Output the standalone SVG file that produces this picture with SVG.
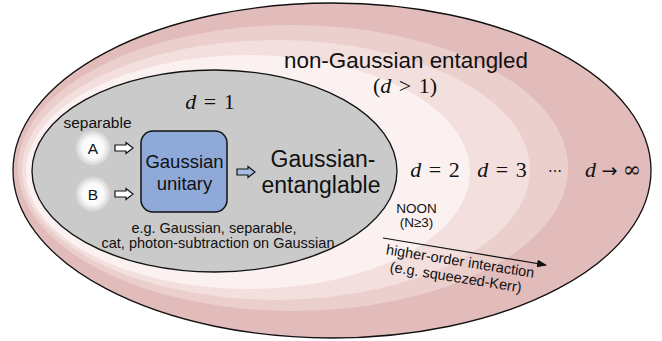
<svg xmlns="http://www.w3.org/2000/svg" width="662" height="341" viewBox="0 0 662 341">
<style>
.sans{font-family:"Liberation Sans",Arial,sans-serif;fill:#111}
.math{font-family:"Liberation Serif","DejaVu Serif",serif;fill:#111}
.it{font-style:italic}
.blk{fill:white;stroke:#111;stroke-width:1.2}
</style>
<defs>
<radialGradient id="ball" cx="0.5" cy="0.5" r="0.5">
<stop offset="0" stop-color="#ffffff"/>
<stop offset="0.6" stop-color="#fafafa"/>
<stop offset="1" stop-color="#d2d2d2"/>
</radialGradient>
<path id="barrow" d="M0,-3 H11 V-5.5 L18,0 L11,5.5 V3 H0 Z"/>
<marker id="ah" markerWidth="10" markerHeight="8" refX="9" refY="4" orient="auto" markerUnits="userSpaceOnUse">
<path d="M0,0 L10,4 L0,8 Z" fill="#111"/>
</marker>
</defs>

<g id="regions">
<ellipse cx="332" cy="170.5" rx="319" ry="167.5" fill="#e2bcba" stroke="#111" stroke-width="1.3"/>
<ellipse cx="293" cy="168" rx="275" ry="143" fill="#eacfcd"/>
<ellipse cx="276" cy="170" rx="254" ry="130" fill="#f2dfde"/>
<ellipse cx="248" cy="172" rx="222" ry="117" fill="#faf1f0"/>
</g>

<g id="gaussian-region">
<ellipse cx="214.5" cy="171" rx="182.5" ry="101" fill="#cacaca" stroke="#111" stroke-width="1.3"/>
<text class="math" x="210" y="109" font-size="22" text-anchor="middle" xml:space="preserve"><tspan class="it">d</tspan> <tspan dx="2">=</tspan> <tspan dx="2">1</tspan></text>
<text class="sans" x="97.5" y="128" font-size="15.5" text-anchor="middle">separable</text>
<text class="sans" x="214" y="233" font-size="14.5" text-anchor="middle">e.g. Gaussian, separable,</text>
<text class="sans" x="218" y="248" font-size="14.5" text-anchor="middle">cat, photon-subtraction on Gaussian</text>
</g>

<g id="node-A">
<circle cx="93" cy="148" r="17.5" fill="url(#ball)"/>
<text class="sans" x="93" y="154" font-size="15.5" text-anchor="middle">A</text>
</g>
<g id="node-B">
<circle cx="93" cy="194" r="17.5" fill="url(#ball)"/>
<text class="sans" x="93" y="200" font-size="15.5" text-anchor="middle">B</text>
</g>

<g id="node-unitary">
<rect x="141" y="131" width="86" height="81" rx="12" fill="#8faad9" stroke="#111" stroke-width="1.5"/>
<text class="sans" x="184.5" y="168" font-size="18.5" text-anchor="middle">Gaussian</text>
<text class="sans" x="184.5" y="190" font-size="18.5" text-anchor="middle">unitary</text>
</g>

<g id="node-entanglable">
<text class="sans" x="323" y="167" font-size="23" text-anchor="middle">Gaussian-</text>
<text class="sans" x="321" y="193" font-size="23" text-anchor="middle">entanglable</text>
</g>

<g id="node-nongaussian">
<text class="sans" x="406" y="68" font-size="22.4" text-anchor="middle">non-Gaussian entangled</text>
<text class="math" x="405" y="93" font-size="22" text-anchor="middle" xml:space="preserve">(<tspan class="it">d</tspan> <tspan dx="2">&gt;</tspan> <tspan dx="2">1)</tspan></text>
<text class="math" x="435" y="177" font-size="22" text-anchor="middle" xml:space="preserve"><tspan class="it">d</tspan> <tspan dx="2">=</tspan> <tspan dx="2">2</tspan></text>
<text class="math" x="502" y="177" font-size="22" text-anchor="middle" xml:space="preserve"><tspan class="it">d</tspan> <tspan dx="2">=</tspan> <tspan dx="2">3</tspan></text>
<text class="math" x="555" y="176" font-size="14" text-anchor="middle">⋯</text>
<text class="math" x="613" y="177" font-size="22" text-anchor="middle" xml:space="preserve"><tspan class="it">d</tspan> <tspan font-family="DejaVu Sans" font-size="19">→</tspan> <tspan font-family="DejaVu Serif">∞</tspan></text>
<text class="sans" x="416.5" y="213" font-size="13.5" text-anchor="middle">NOON</text>
<text class="sans" x="416.5" y="227" font-size="13.5" text-anchor="middle">(N≥3)</text>
</g>

<g id="connectors">
<use href="#barrow" x="115" y="148" class="blk"/>
<use href="#barrow" x="115" y="194" class="blk"/>
<use href="#barrow" x="237" y="172" fill="#a9bde3" stroke="#111" stroke-width="1.2"/>
<line x1="383" y1="238" x2="546" y2="265" stroke="#111" stroke-width="1.2" marker-end="url(#ah)"/>
<text class="sans" font-size="14.5" text-anchor="middle" transform="translate(459.5,266) rotate(9)">higher-order interaction</text>
<text class="sans" font-size="14.5" text-anchor="middle" transform="translate(455,282) rotate(9)">(e.g. squeezed-Kerr)</text>
</g>
</svg>
